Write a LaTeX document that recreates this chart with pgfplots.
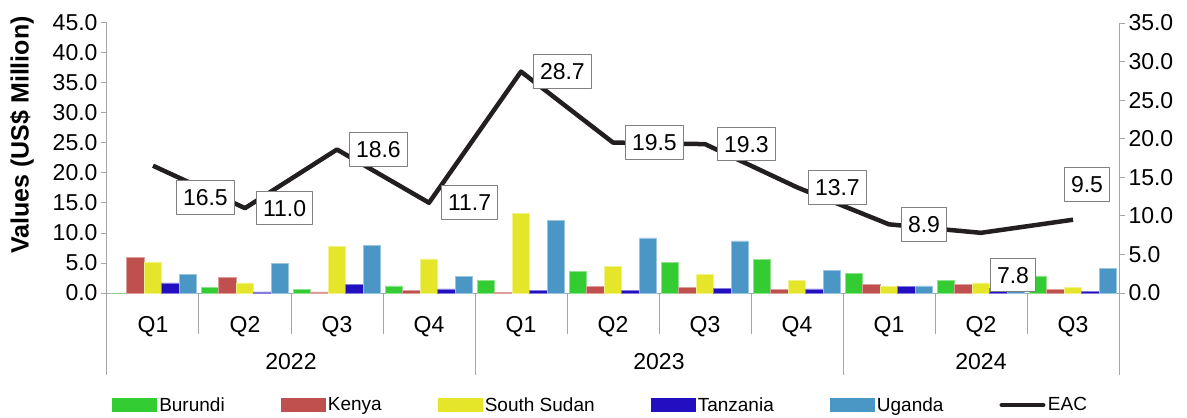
\documentclass[border=0pt]{standalone}
\usepackage{pgfplots}
\usepackage{pgfplotstable}
\pgfplotsset{compat=1.18}
\usepackage{fontspec}
\setmainfont{Liberation Sans}
\definecolor{cBur}{HTML}{33CC33}
\definecolor{cKen}{HTML}{C0504D}
\definecolor{cSsd}{HTML}{E5E629}
\definecolor{cTan}{HTML}{2210C0}
\definecolor{cUga}{HTML}{4A96C4}
\definecolor{cEAC}{HTML}{231F20}
\definecolor{axgray}{HTML}{A6A6A6}
\definecolor{boxgray}{HTML}{808080}
\newcommand{\tfont}{\fontsize{23bp}{27bp}\selectfont}
\newcommand{\lfont}{\fontsize{19bp}{23bp}\selectfont}

\pgfplotstableread{
x bur ken ssd tan uga
0 0.0 5.95 5.2 1.7 3.05
1 0.9 2.6 1.7 0.2 4.9
2 0.55 0.2 7.8 1.4 8.0
3 1.2 0.45 5.7 0.7 2.8
4 2.05 0.1 13.3 0.4 12.1
5 3.55 1.05 4.5 0.45 9.2
6 5.05 0.9 3.1 0.83 8.7
7 5.6 0.65 2.15 0.7 3.8
8 3.3 1.5 1.05 1.1 1.2
9 2.05 1.5 1.7 0.8 1.5
10 2.85 0.65 0.9 0.3 4.05
}\bars

\pgfplotstableread{
x eac dx dy
0 16.5 23 -32
1 11.0 11 0
2 18.6 12 0
3 11.7 12 0
4 28.7 12 0
5 19.5 12 0
6 19.3 12 0
7 13.7 11 0
8 8.9 12 0
9 7.8 9 -42
10 9.5 -9 35
}\eac

\begin{document}
\begin{tikzpicture}
\begin{axis}[
  at={(0,0)}, anchor=south west,
  width=1012bp, height=270bp, scale only axis,
  xmin=-0.5, xmax=10.5, ymin=0, ymax=45,
  clip=false,
  ybar=0pt, bar width=17.5bp,
  axis x line*=bottom, axis y line*=left,
  axis line style={draw=axgray, line width=1bp},
  tick style={draw=axgray, line width=1bp},
  major tick length=6bp, tick align=outside,
  xtick={0,...,10},
  xticklabels={Q1,Q2,Q3,Q4,Q1,Q2,Q3,Q4,Q1,Q2,Q3},
  xtick style={draw=none},
  xticklabel style={font=\tfont, anchor=base, yshift=-33bp},
  ytick={0,5,...,45},
  yticklabel style={font=\tfont, /pgf/number format/.cd, fixed, fixed zerofill, precision=1, assume math mode=true},
  ylabel={Values (US\$ Million)},
  ylabel style={font=\bfseries\fontsize{25bp}{30bp}\selectfont, at={(axis description cs:-0.084,0.585)}, anchor=center},
  legend columns=6,
  legend cell align=left,
  legend style={at={(axis description cs:0.488,-0.415)}, anchor=center, draw=none, fill=none, font=\lfont,
    inner sep=0pt,
    nodes={inner xsep=2.5bp},
    /tikz/every even column/.append style={column sep=53.5bp}},
]
\addplot[fill=cBur, draw=cBur!55!white, line width=0.6bp,
  legend image code/.code={\fill[cBur] (0bp,-6.5bp) rectangle (44bp,6.5bp);}]
  table[x=x, y=bur]{\bars};
\addlegendentry{Burundi}
\addplot[fill=cKen, draw=cKen!55!white, line width=0.6bp,
  legend image code/.code={\fill[cKen] (0bp,-6.5bp) rectangle (44bp,6.5bp);}]
  table[x=x, y=ken]{\bars};
\addlegendentry{Kenya}
\addplot[fill=cSsd, draw=cSsd!55!white, line width=0.6bp,
  legend image code/.code={\fill[cSsd] (0bp,-6.5bp) rectangle (44bp,6.5bp);}]
  table[x=x, y=ssd]{\bars};
\addlegendentry{South Sudan}
\addplot[fill=cTan, draw=cTan!55!white, line width=0.6bp,
  legend image code/.code={\fill[cTan] (0bp,-6.5bp) rectangle (44bp,6.5bp);}]
  table[x=x, y=tan]{\bars};
\addlegendentry{Tanzania}
\addplot[fill=cUga, draw=cUga!55!white, line width=0.6bp,
  legend image code/.code={\fill[cUga] (0bp,-6.5bp) rectangle (44bp,6.5bp);}]
  table[x=x, y=uga]{\bars};
\addlegendentry{Uganda}
\addlegendimage{legend image code/.code={\draw[cEAC, line width=4.5bp, line cap=round] (2.5bp,0bp) -- (44bp,0bp);}}
\addlegendentry{EAC}
\pgfplotsinvokeforeach{0.5,1.5,2.5,4.5,5.5,6.5,8.5,9.5}{
  \draw[axgray, line width=1bp] (axis cs:#1,0) -- ++(0bp,-41bp);
}
\pgfplotsinvokeforeach{-0.5,3.5,7.5,10.5}{
  \draw[axgray, line width=1bp] (axis cs:#1,0) -- ++(0bp,-82bp);
}
\node[font=\tfont, anchor=base] at ([yshift=-76bp]axis cs:1.5,0) {2022};
\node[font=\tfont, anchor=base] at ([yshift=-76bp]axis cs:5.5,0) {2023};
\node[font=\tfont, anchor=base] at ([yshift=-76bp]axis cs:9,0) {2024};
\end{axis}

\begin{axis}[
  at={(0,0)}, anchor=south west,
  width=1012bp, height=270bp, scale only axis,
  xmin=-0.5, xmax=10.5, ymin=0, ymax=35,
  clip=false,
  axis x line=none, axis y line*=right,
  axis line style={draw=axgray, line width=1bp},
  tick style={draw=axgray, line width=1bp},
  major tick length=6bp, tick align=outside,
  ytick={0,5,...,35},
  yticklabel style={font=\tfont, /pgf/number format/.cd, fixed, fixed zerofill, precision=1, assume math mode=true},
]
\addplot[cEAC, line width=4.5bp, line join=round, mark=none,
  point meta=explicit,
  visualization depends on={\thisrow{dx} \as \dx},
  visualization depends on={\thisrow{dy} \as \dy},
  nodes near coords={\pgfmathprintnumber[fixed,fixed zerofill,precision=1,assume math mode=true]{\pgfplotspointmeta}},
  every node near coord/.append style={font=\tfont, text=black, anchor=west, xshift=\dx bp, yshift=\dy bp,
    fill=white, draw=boxgray, line width=1bp, inner xsep=6.5bp, inner ysep=8.5bp,
    text height=16.5bp, text depth=0bp}]
  table[x=x, y=eac, meta=eac]{\eac};
\end{axis}
\pgfresetboundingbox
\path[use as bounding box] (-107bp,-125bp) rectangle (1080bp,293bp);
\end{tikzpicture}
\end{document}
